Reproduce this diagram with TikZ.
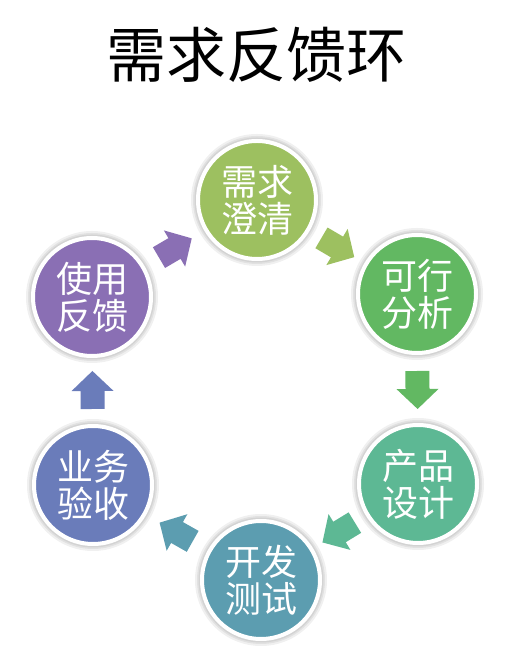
\documentclass[tikz,border=0pt]{standalone}
\usepackage{fontspec}
\newfontfamily\cjk{Noto Sans CJK SC}
\usetikzlibrary{calc}
\definecolor{cA}{RGB}{157,192,96}
\definecolor{cB}{RGB}{98,184,98}
\definecolor{cC}{RGB}{93,184,148}
\definecolor{cD}{RGB}{92,157,176}
\definecolor{cE}{RGB}{106,124,186}
\definecolor{cF}{RGB}{138,111,180}
\begin{document}
\begin{tikzpicture}[x=1pt,y=1pt,
  stage/.style={circle, minimum size=118pt, inner sep=0pt, draw=white, line width=4pt,
    text=white, align=center, font=\cjk\fontsize{36}{37}\selectfont},
  halo/.style={fill=black, fill opacity=0.06, draw=none},
  flowarrow/.pic={\fill (-18,-12) -- (0,-12) -- (0,-21) -- (20,0) -- (0,21) -- (0,12) -- (-18,12) -- cycle;}]
\useasboundingbox (0,0) rectangle (516,650);
\fill[white] (0,0) rectangle (516,650);
\node[font=\cjk\fontsize{60}{60}\selectfont, text=black] (title) at (256,595) {需求反馈环};
% halos
\foreach \p in {(257,450),(417,356),(418,166),(261,70),(93,165),(92,353)}{
  \fill[halo] \p circle (66pt);
  \fill[halo] \p circle (64pt);
  \fill[halo] \p circle (62.5pt);
}
\node[stage, fill=cA] (s1) at (257,450) {需求\\澄清};
\node[stage, fill=cB] (s2) at (417,356) {可行\\分析};
\node[stage, fill=cC] (s3) at (418,166) {产品\\设计};
\node[stage, fill=cD] (s4) at (261,70) {开发\\测试};
\node[stage, fill=cE] (s5) at (93,165) {业务\\验收};
\node[stage, fill=cF] (s6) at (92,353) {使用\\反馈};
\foreach \a/\b/\c in {s1/s2/cA, s2/s3/cB, s3/s4/cC, s4/s5/cD, s5/s6/cE, s6/s1/cF}{
  \path let \p1=($(\b.center)-(\a.center)$), \n1={atan2(\y1,\x1)} in
    ($(\a.center)!0.5!(\b.center)$) pic[rotate=\n1, color=\c] {flowarrow};
}
\end{tikzpicture}
\end{document}
